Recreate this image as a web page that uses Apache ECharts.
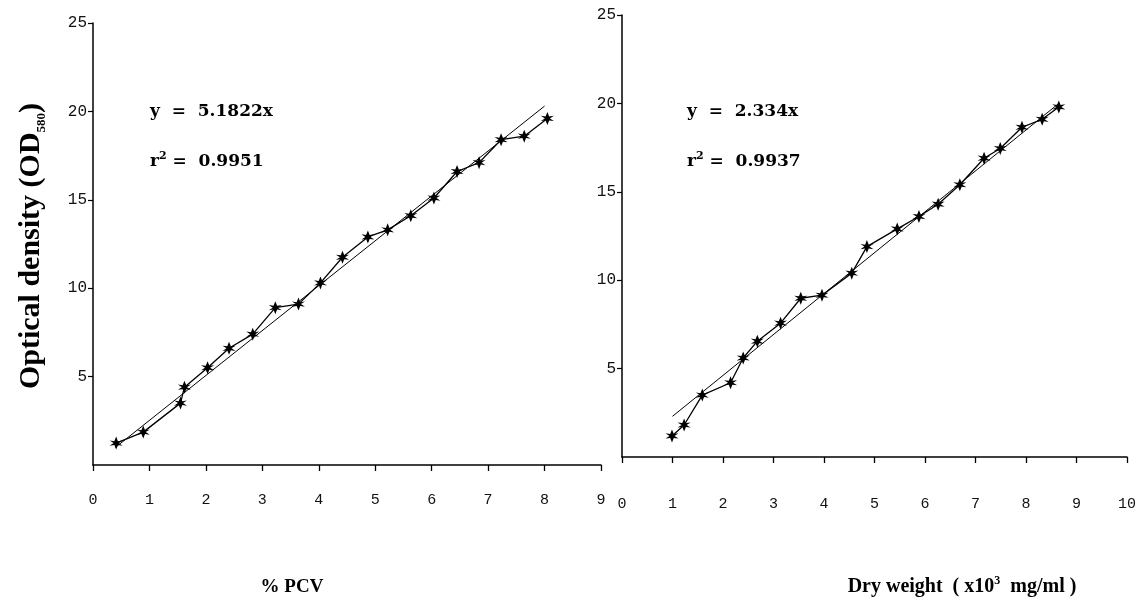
<!DOCTYPE html>
<html>
<head>
<meta charset="utf-8">
<script src="https://cdn.jsdelivr.net/npm/echarts@6/dist/echarts.min.js"></script>
<style>
  html, body { margin: 0; padding: 0; background: #fff; }
  #chart { width: 1139px; height: 613px; }
</style>
</head>
<body>
<div id="chart"></div>
<script>
// left panel: % PCV vs OD
var pcvX = [0.41, 0.89, 1.55, 1.62, 2.03, 2.41, 2.83, 3.23, 3.64, 4.03, 4.42, 4.87, 5.22, 5.63, 6.04, 6.45, 6.84, 7.23, 7.64, 8.05];
var pcvOD = [1.24, 1.86, 3.5, 4.4, 5.5, 6.6, 7.4, 8.9, 9.1, 10.3, 11.75, 12.9, 13.3, 14.1, 15.1, 16.6, 17.1, 18.4, 18.6, 19.6];
var pcvTrend = [[0.4, 1.0], [8.0, 20.3]];

// right panel: dry weight vs OD
var dwX = [0.99, 1.23, 1.59, 2.15, 2.4, 2.68, 3.14, 3.54, 3.96, 4.55, 4.85, 5.45, 5.88, 6.26, 6.69, 7.17, 7.49, 7.92, 8.32, 8.65];
var dwOD = [1.19, 1.81, 3.5, 4.2, 5.6, 6.55, 7.57, 8.98, 9.15, 10.4, 11.9, 12.9, 13.6, 14.3, 15.4, 16.9, 17.45, 18.65, 19.1, 19.8];
var dwTrend = [[1.0, 2.3], [8.65, 20.0]];

var eqLeft = ['y  =  5.1822x', '0.9951'];
var eqRight = ['y  =  2.334x', '0.9937'];

function pairs(xs, ys) {
  return xs.map(function (x, i) { return [x, ys[i]]; });
}

var chart = echarts.init(document.getElementById('chart'));
var tickFont = { color: '#111', fontFamily: 'Liberation Mono', fontSize: 15 };
var serif = 'Liberation Serif';
var eqFont = 'bold 17px "DejaVu Serif"';
var star = 'path://M0,-10 L2.5,-3 L9,-4 L3.5,0 L9,4 L2.5,3 L0,10 L-2.5,3 L-9,4 L-3.5,0 L-9,-4 L-2.5,-3Z';

function xAx(idx, max, margin) {
  return {
    type: 'value', gridIndex: idx, min: 0, max: max, interval: 1,
    splitLine: { show: false },
    axisLine: { onZero: false, lineStyle: { color: '#000', width: 1.5 } },
    axisTick: { inside: false, length: 6, lineStyle: { color: '#000', width: 1.3 } },
    axisLabel: Object.assign({ margin: margin }, tickFont)
  };
}
function yAx(idx) {
  return {
    type: 'value', gridIndex: idx, min: 0, max: 25, interval: 5,
    splitLine: { show: false },
    axisLine: { show: true, lineStyle: { color: '#000', width: 1.5 } },
    axisTick: { length: 5, lineStyle: { color: '#000', width: 1.2 } },
    axisLabel: Object.assign({ margin: 6, showMinLabel: false }, tickFont, { fontSize: 16 })
  };
}
function dataSeries(idx, d) {
  return {
    type: 'line', xAxisIndex: idx, yAxisIndex: idx, data: d,
    symbol: star, symbolSize: 13, showSymbol: true,
    itemStyle: { color: '#000' },
    lineStyle: { color: '#000', width: 1.3 },
    animation: false
  };
}
function trendSeries(idx, d) {
  return {
    type: 'line', xAxisIndex: idx, yAxisIndex: idx, data: d,
    symbol: 'none', lineStyle: { color: '#000', width: 1 }, animation: false
  };
}
function eqText(left, top, txt) {
  return [
    { type: 'text', left: left, top: top, style: { text: txt[0], font: eqFont, fill: '#000' } },
    { type: 'text', left: left, top: top + 48, style: {
      text: '{b|r}{s|2}{b| =  ' + txt[1] + '}',
      rich: {
        b: { font: eqFont, fill: '#000', lineHeight: 22 },
        s: { font: 'bold 11px "DejaVu Serif"', fill: '#000', verticalAlign: 'top', lineHeight: 22 }
      }
    } }
  ];
}

var option = {
  backgroundColor: '#fff',
  grid: [
    { left: 93, top: 23, width: 508, height: 442 },
    { left: 622, top: 15, width: 506, height: 442 }
  ],
  xAxis: [xAx(0, 9, 28), xAx(1, 10, 40)],
  yAxis: [yAx(0), yAx(1)],
  series: [
    trendSeries(0, pcvTrend),
    dataSeries(0, pairs(pcvX, pcvOD)),
    trendSeries(1, dwTrend),
    dataSeries(1, pairs(dwX, dwOD))
  ],
  graphic: [].concat(
    eqText(150, 103, eqLeft),
    eqText(687, 103, eqRight),
    [
      { type: 'text', x: 31, y: 246, rotation: Math.PI / 2, style: {
        text: '{b|Optical density (OD}{s|580}{b|)}',
        align: 'center', verticalAlign: 'middle',
        rich: {
          b: { font: 'bold 30px ' + serif, fill: '#000', lineHeight: 34 },
          s: { font: 'bold 13px ' + serif, fill: '#000', verticalAlign: 'bottom', lineHeight: 34 }
        }
      } },
      { type: 'text', x: 292, y: 587, style: {
        text: '% PCV', font: 'bold 19px ' + serif, fill: '#000', align: 'center', verticalAlign: 'middle'
      } },
      { type: 'text', x: 962, y: 587, style: {
        text: '{b|Dry weight  ( x10}{s|3}{b|  mg/ml )}',
        align: 'center', verticalAlign: 'middle',
        rich: {
          b: { font: 'bold 20px ' + serif, fill: '#000', lineHeight: 24 },
          s: { font: 'bold 12px ' + serif, fill: '#000', verticalAlign: 'top', lineHeight: 24 }
        }
      } }
    ]
  )
};
chart.setOption(option);
window.addEventListener('resize', function () { chart.resize(); });
</script>
</body>
</html>
